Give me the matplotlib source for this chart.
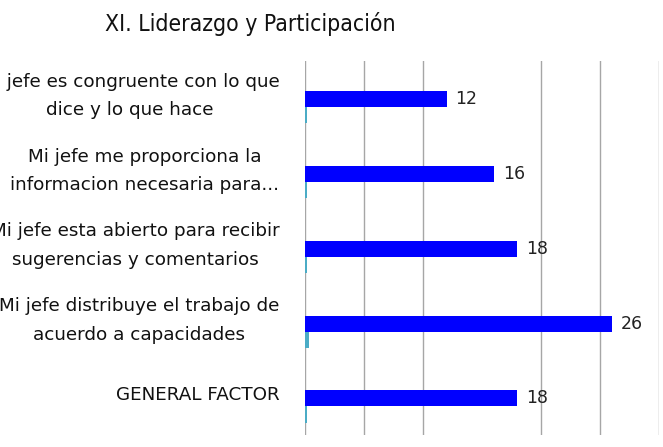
import matplotlib.pyplot as plt
import numpy as np

# datos del grafico
categorias = [
    "Mi jefe es congruente con lo que\ndice y lo que hace",
    "Mi jefe me proporciona la\ninformacion necesaria para...",
    "Mi jefe esta abierto para recibir\nsugerencias y comentarios",
    "Mi jefe distribuye el trabajo de\nacuerdo a capacidades",
    "GENERAL FACTOR",
]
valores = [12, 16, 18, 26, 18]
valores_2 = [0.15, 0.2, 0.2, 0.3, 0.2]
lineas_grid = [0, 5, 10, 20, 25, 30]

fig = plt.figure(figsize=(6.63, 4.47), dpi=100)
ax = fig.add_axes([0.46, 0.027, 0.534, 0.837])

y = np.arange(len(categorias))
h = 0.215
ax.barh(y - h / 2, valores, height=h, color='#0000FF', zorder=3)
ax.barh(y + h / 2, valores_2, height=h, color='#4BACC6', zorder=3)

for yi, v in zip(y, valores):
    ax.text(v + 0.75, yi - h / 2, str(v), va='center', ha='left', fontsize=12.5, color='#222222', zorder=4)

ax.set_xlim(0, 30)
# las barras quedan algo por debajo del centro de cada franja
ax.set_ylim(len(categorias) - 0.62, -0.62)
for g in lineas_grid:
    ax.axvline(g, color='#A6A6A6', lw=1, zorder=1)

for s in ax.spines.values():
    s.set_visible(False)
ax.set_xticks([])
ax.set_yticks([])

# etiquetas de categorias
tr = ax.get_yaxis_transform()
for yi, c in zip(y, categorias):
    ax.text(-0.072, yi - 0.15, c, transform=tr, ha='right', va='center',
            multialignment='center', fontsize=13.2, linespacing=1.75, color='#111111')

fig.text(250 / 663, 1 - 24 / 447, "XI. Liderazgo y Participación", ha='center', va='center',
         fontsize=16.5, fontstretch='condensed', color='#111111')

fig.savefig('out.png', dpi=100)
